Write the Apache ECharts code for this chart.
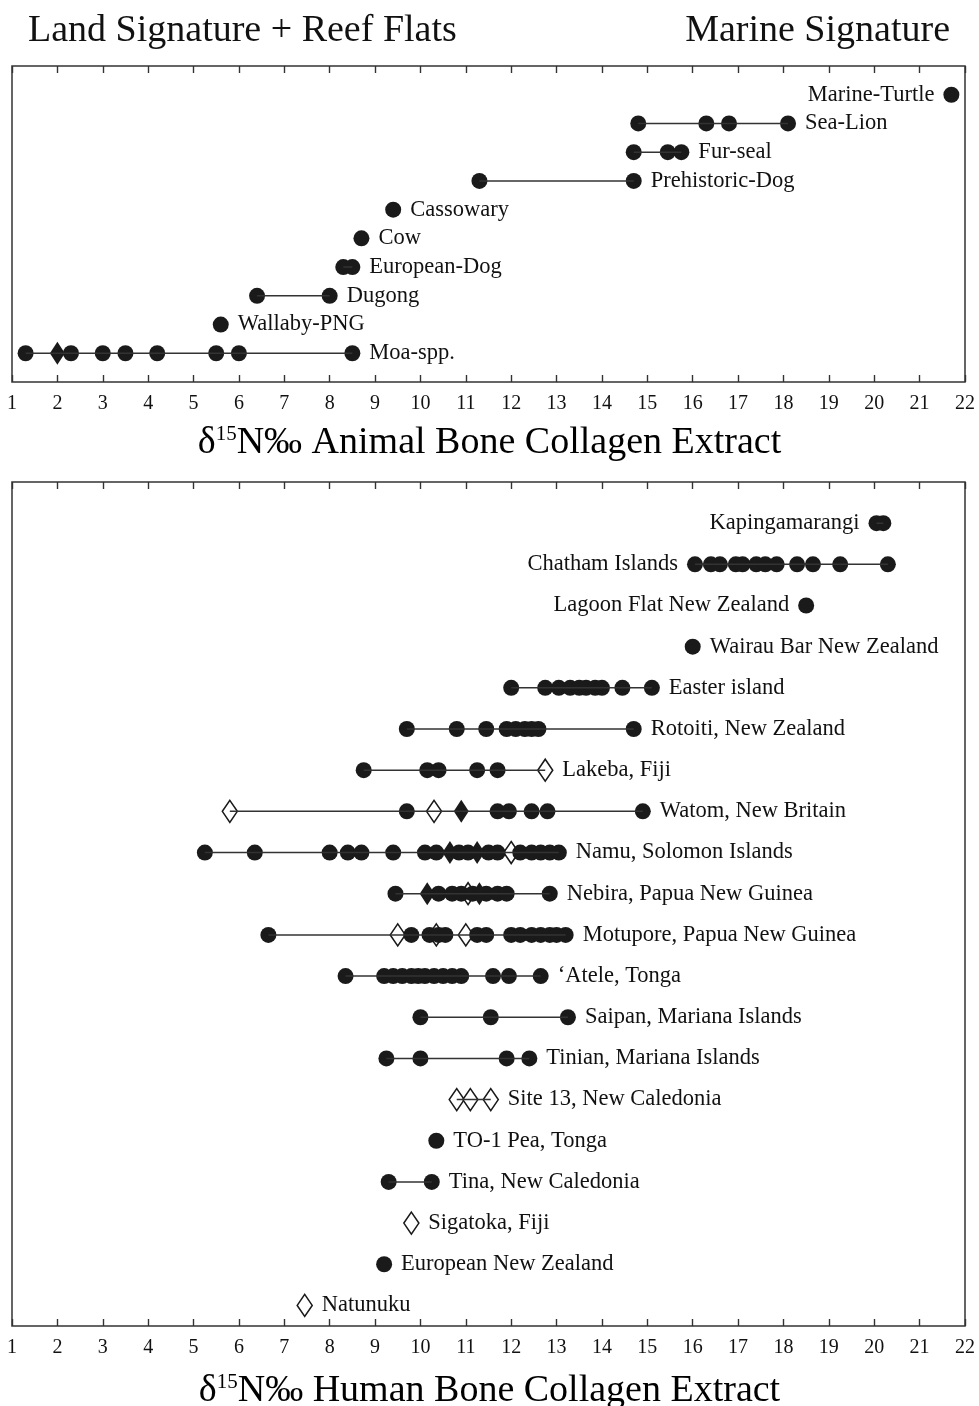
<!DOCTYPE html>
<html>
<head>
<meta charset="utf-8">
<title>δ15N bone collagen</title>
<script src="https://cdn.jsdelivr.net/npm/echarts@6/dist/echarts.min.js"></script>
<style>
  html, body { margin: 0; padding: 0; background: #fff; }
  #chart { width: 979px; height: 1406px; }
</style>
</head>
<body>
<div id="chart"></div>
<script>
// ---- Animal bone collagen (upper panel), listed bottom row first ----
const animalNames = ['Moa-spp.', 'Wallaby-PNG', 'Dugong', 'European-Dog', 'Cow',
  'Cassowary', 'Prehistoric-Dog', 'Fur-seal', 'Sea-Lion', 'Marine-Turtle'];
const animalDots = [
  [1.3, 2.3, 3.0, 3.5, 4.2, 5.5, 6.0, 8.5],
  [5.6],
  [6.4, 8.0],
  [8.3, 8.5],
  [8.7],
  [9.4],
  [11.3, 14.7],
  [14.7, 15.45, 15.75],
  [14.8, 16.3, 16.8, 18.1],
  [21.7]
];
const animalSolidDiamonds = [[2.0], [], [], [], [], [], [], [], [], []];
const animalOpenDiamonds = [[], [], [], [], [], [], [], [], [], []];

// ---- Human bone collagen (lower panel), listed bottom row first ----
const humanNames = ['Natunuku', 'European New Zealand', 'Sigatoka, Fiji', 'Tina, New Caledonia',
  'TO-1 Pea, Tonga', 'Site 13, New Caledonia', 'Tinian, Mariana Islands', 'Saipan, Mariana Islands',
  '\u2018Atele, Tonga', 'Motupore, Papua New Guinea', 'Nebira, Papua New Guinea', 'Namu, Solomon Islands',
  'Watom, New Britain', 'Lakeba, Fiji', 'Rotoiti, New Zealand', 'Easter island',
  'Wairau Bar New Zealand', 'Lagoon Flat New Zealand', 'Chatham Islands', 'Kapingamarangi'];
const humanDots = [
  [],
  [9.2],
  [],
  [9.3, 10.25],
  [10.35],
  [],
  [9.25, 10.0, 11.9, 12.4],
  [10.0, 11.55, 13.25],
  [8.35, 9.2, 9.4, 9.6, 9.8, 9.95, 10.1, 10.3, 10.5, 10.7, 10.9, 11.6, 11.95, 12.65],
  [6.65, 9.8, 10.2, 10.4, 10.55, 11.25, 11.45, 12.0, 12.2, 12.45, 12.65, 12.85, 13.0, 13.2],
  [9.45, 10.4, 10.7, 10.9, 11.15, 11.45, 11.7, 11.9, 12.85],
  [5.25, 6.35, 8.0, 8.4, 8.7, 9.4, 10.1, 10.35, 10.85, 11.05, 11.5, 11.7, 12.2, 12.45, 12.65, 12.85, 13.05],
  [9.7, 11.7, 11.95, 12.45, 12.8, 14.9],
  [8.75, 10.15, 10.4, 11.25, 11.7],
  [9.7, 10.8, 11.45, 11.9, 12.1, 12.3, 12.45, 12.6, 14.7],
  [12.0, 12.75, 13.05, 13.3, 13.5, 13.65, 13.85, 14.0, 14.45, 15.1],
  [16.0],
  [18.5],
  [16.05, 16.4, 16.6, 16.95, 17.1, 17.4, 17.6, 17.85, 18.3, 18.65, 19.25, 20.3],
  [20.05, 20.2]
];
const humanSolidDiamonds = [
  [], [], [], [], [], [], [], [], [], [],
  [10.15, 11.3],
  [10.65, 11.25],
  [10.9],
  [], [], [], [], [], [], []
];
const humanOpenDiamonds = [
  [7.45], [], [9.8], [], [], [10.8, 11.1, 11.55], [], [], [],
  [9.5, 10.35, 11.0],
  [11.05],
  [12.0],
  [5.8, 10.3],
  [12.75],
  [], [], [], [], [], []
];

const xTicks = [1, 22];

// Rows whose name sits to the left of the marks
const leftLabelled = new Set(['Marine-Turtle', 'Kapingamarangi', 'Chatham Islands', 'Lagoon Flat New Zealand']);

const SERIF = '"Liberation Serif", "DejaVu Serif", serif';
const INK = '#1a1a1a';
const TEXT = '#111';
const DOT = 16;
const DIAMOND = [15, 22];

function panelSeries(names, dots, solid, open) {
  const series = [];
  const rowOf = i => i + 1;
  // row names, placed beside the outermost mark of each row (drawn underneath everything)
  const labelData = names.map((name, i) => {
    const all = dots[i].concat(solid[i], open[i]);
    const left = leftLabelled.has(name);
    return {
      value: [left ? Math.min(...all) : Math.max(...all), rowOf(i)],
      name: name,
      label: { position: left ? 'left' : 'right' }
    };
  });
  series.push({
    type: 'scatter', animation: false, silent: true, z: 1,
    symbol: 'circle', symbolSize: DOT,
    itemStyle: { color: '#fff', opacity: 1 },
    label: {
      show: true, formatter: p => p.name, distance: 9,
      fontFamily: SERIF, fontSize: 22.5, color: TEXT, opacity: 1
    },
    labelLayout: { hideOverlap: false },
    data: labelData
  });
  // range lines joining the lowest and highest value of each row
  names.forEach((name, i) => {
    const all = dots[i].concat(solid[i], open[i]);
    if (all.length > 1) {
      series.push({
        type: 'line', silent: true, symbol: 'none', animation: false,
        lineStyle: { color: '#333', width: 1.5 },
        data: [[Math.min(...all), rowOf(i)], [Math.max(...all), rowOf(i)]]
      });
    }
  });
  const flat = (arr) => arr.flatMap((vals, i) => vals.map(v => [v, rowOf(i)]));
  series.push({
    type: 'scatter', animation: false, silent: true,
    symbol: 'diamond', symbolSize: DIAMOND,
    itemStyle: { color: '#fff', borderColor: INK, borderWidth: 1.6, opacity: 1 },
    data: flat(open)
  });
  series.push({
    type: 'scatter', animation: false, silent: true,
    symbol: 'circle', symbolSize: DOT,
    itemStyle: { color: INK, opacity: 1 },
    data: flat(dots)
  });
  series.push({
    type: 'scatter', animation: false, silent: true,
    symbol: 'diamond', symbolSize: [15, 23],
    itemStyle: { color: INK, opacity: 1 },
    data: flat(solid)
  });
  return series;
}

function xAxes(gridIndex, labelMargin) {
  const base = {
    type: 'value', gridIndex: gridIndex, min: xTicks[0], max: xTicks[1], interval: 1,
    splitLine: { show: false },
    axisLine: { show: false },
    axisTick: { show: true, inside: true, length: 7, lineStyle: { color: '#333', width: 1.4 } }
  };
  return [
    Object.assign({}, base, {
      position: 'bottom',
      axisLabel: { show: true, fontFamily: SERIF, fontSize: 20, color: TEXT, margin: labelMargin }
    }),
    Object.assign({}, base, { position: 'top', axisLabel: { show: false } })
  ];
}

const chart = echarts.init(document.getElementById('chart'), null, { renderer: 'canvas' });

const gridStyle = { show: true, borderColor: '#333', borderWidth: 1.5, backgroundColor: 'transparent' };

const titleRich = {
  big: { fontFamily: SERIF, fontSize: 38, color: TEXT },
  sup: { fontFamily: SERIF, fontSize: 21, color: TEXT, verticalAlign: 'top', padding: [0, 0, 18, 0] }
};

chart.setOption({
  backgroundColor: '#fff',
  animation: false,
  grid: [
    Object.assign({ left: 12, right: 14, top: 66, height: 316 }, gridStyle),
    Object.assign({ left: 12, right: 14, top: 482, height: 844 }, gridStyle)
  ],
  xAxis: xAxes(0, 12).concat(xAxes(1, 12)),
  yAxis: [
    { type: 'value', gridIndex: 0, min: 0, max: 11, show: false },
    { type: 'value', gridIndex: 1, min: 0.5, max: 21, show: false }
  ],
  series: panelSeries(animalNames, animalDots, animalSolidDiamonds, animalOpenDiamonds)
    .map(s => Object.assign(s, { xAxisIndex: 0, yAxisIndex: 0 }))
    .concat(panelSeries(humanNames, humanDots, humanSolidDiamonds, humanOpenDiamonds)
      .map(s => Object.assign(s, { xAxisIndex: 2, yAxisIndex: 1 }))),
  graphic: [
    {
      type: 'text', left: 28, top: 12,
      style: { text: 'Land Signature + Reef Flats', fontFamily: SERIF, fontSize: 38, fill: TEXT }
    },
    {
      type: 'text', right: 29, top: 12,
      style: { text: 'Marine Signature', fontFamily: SERIF, fontSize: 38, fill: TEXT }
    },
    {
      type: 'text', left: 'center', top: 424,
      style: {
        text: '{big|\u03B4}{sup|15}{big|N\u2030 Animal Bone Collagen Extract}',
        rich: titleRich
      }
    },
    {
      type: 'text', left: 'center', top: 1372,
      style: {
        text: '{big|\u03B4}{sup|15}{big|N\u2030 Human Bone Collagen Extract}',
        rich: titleRich
      }
    }
  ]
});
</script>
</body>
</html>
